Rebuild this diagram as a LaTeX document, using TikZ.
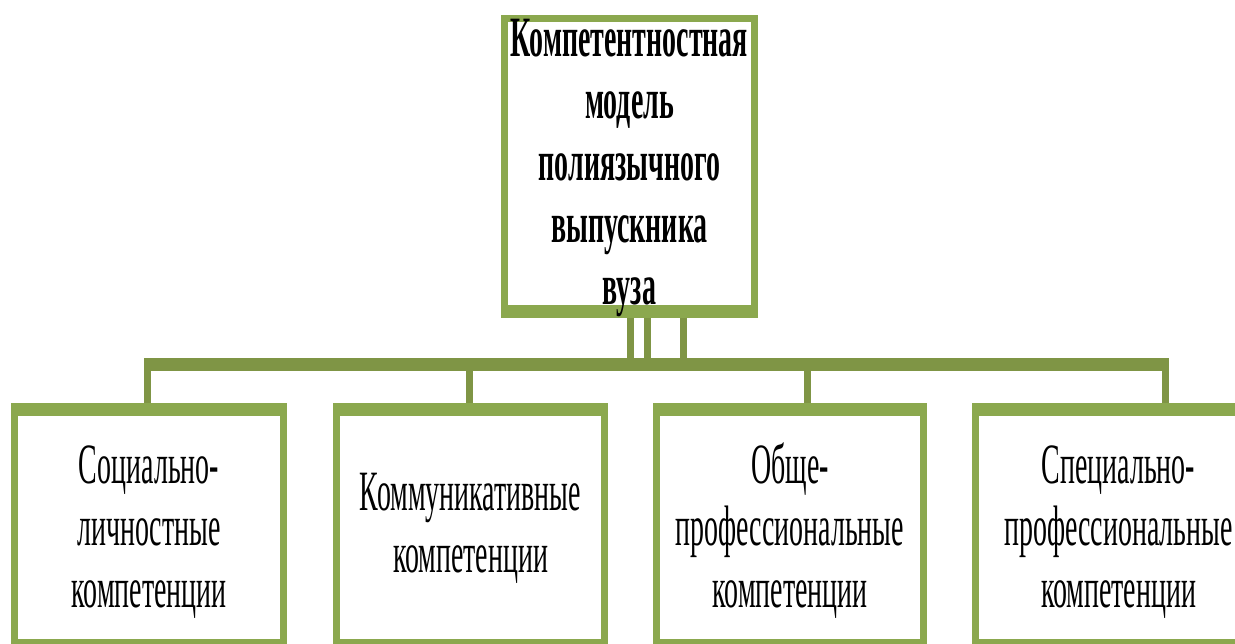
\documentclass[tikz,border=0pt]{standalone}
\usepackage{fontspec}
\newfontfamily\condserif[FakeStretch=0.49]{Liberation Serif}
\definecolor{boxgreen}{RGB}{139,168,78}
\definecolor{linkgreen}{RGB}{127,149,69}
\begin{document}
\begin{tikzpicture}[x=1pt,y=-1pt,
  boxbase/.style={draw=boxgreen, line width=7pt, fill=white, inner sep=0pt,
    align=center, text=black, font=\condserif\fontsize{57}{62}\selectfont,
    text depth=0pt},
  bandboth/.style={path picture={
    \fill[boxgreen] (path picture bounding box.north west) rectangle ([yshift=-9.5pt]path picture bounding box.north east);
    \fill[boxgreen] (path picture bounding box.south west) rectangle ([yshift=9.5pt]path picture bounding box.south east);}},
  bandbottom/.style={path picture={
    \fill[boxgreen] (path picture bounding box.south west) rectangle ([yshift=9.5pt]path picture bounding box.south east);}},
  compbox/.style={boxbase, bandboth, minimum height=242pt},
  vlink/.style={draw=linkgreen, line width=7pt},
  hlink/.style={draw=linkgreen, line width=13pt}]
\useasboundingbox (0,0) rectangle (1235,644);
\clip (0,0) rectangle (1235,644);

% top box
\node[boxbase, bandbottom, minimum width=250pt, minimum height=296pt, text height=277pt,
  font=\condserif\bfseries\fontsize{57}{62}\selectfont]
  (top) at (629.5,166.5) {Компетентностная\\модель\\полиязычного\\выпускника\\вуза};

% competence boxes
\node[compbox, minimum width=269pt, text height=159pt] (b1) at (149,527.5)
  {Социально-\\личностные\\компетенции};
\node[compbox, minimum width=268pt, text height=89pt] (b2) at (470.5,527.5)
  {Коммуникативные\\компетенции};
\node[compbox, minimum width=267pt, text height=159pt] (b3) at (790,527.5)
  {Обще-\\профессиональные\\компетенции};
\node[compbox, minimum width=286pt, text height=159pt] (b4) at (1118.5,527.5)
  {Специально-\\профессиональные\\компетенции};

% connector junctions
\coordinate (hl) at (144,365);
\coordinate (hr) at (1168.5,365);
\coordinate (d1) at (630.5,365);
\coordinate (d2) at (647,365);
\coordinate (d3) at (683,365);
\coordinate (j1) at (147.5,365);
\coordinate (j2) at (469,365);
\coordinate (j3) at (807.5,365);
\coordinate (j4) at (1165,365);

\draw[vlink] (d1 |- top.south) -- (d1);
\draw[vlink] (d2 |- top.south) -- (d2);
\draw[vlink] (d3 |- top.south) -- (d3);
\draw[hlink] (hl) -- (hr);
\draw[vlink] (j1) -- (j1 |- b1.north);
\draw[vlink] (j2) -- (j2 |- b2.north);
\draw[vlink] (j3) -- (j3 |- b3.north);
\draw[vlink] (j4) -- (j4 |- b4.north);
\end{tikzpicture}
\end{document}
